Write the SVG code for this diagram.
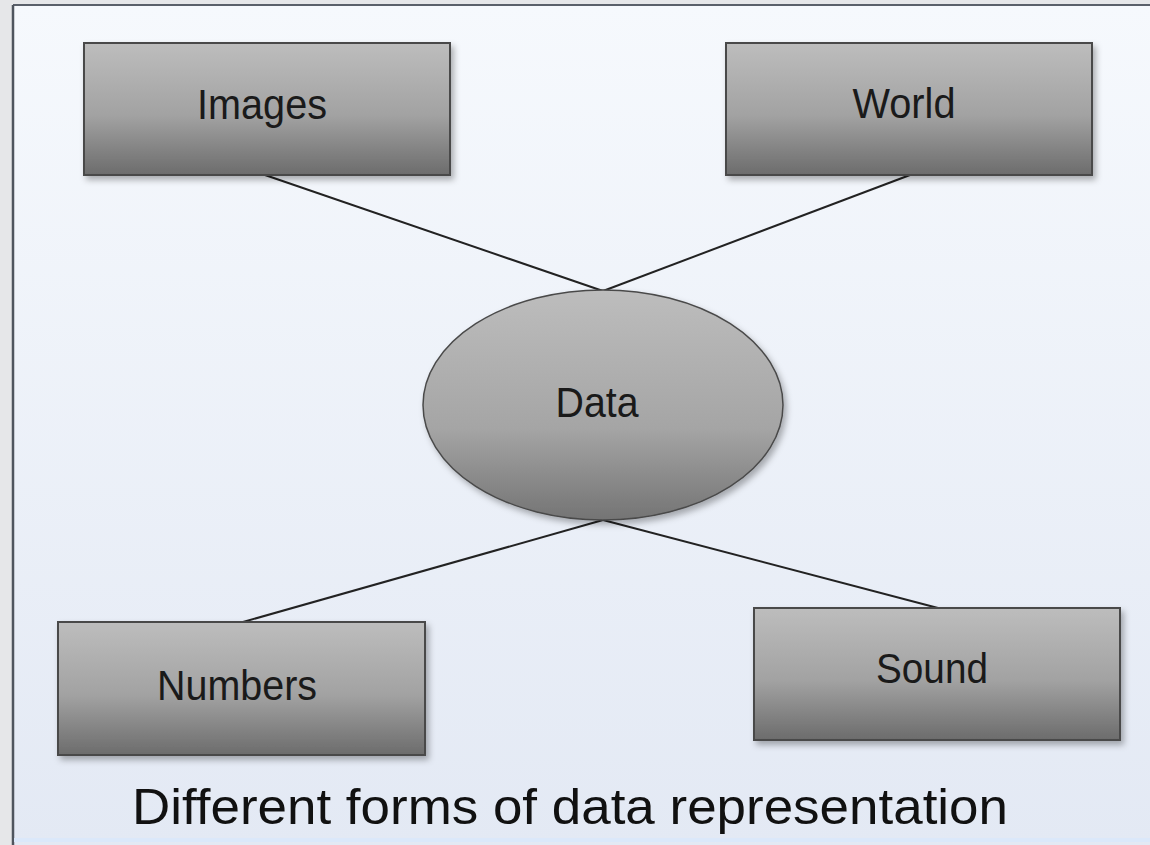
<svg xmlns="http://www.w3.org/2000/svg" width="1150" height="845" viewBox="0 0 1150 845">
  <defs>
    <linearGradient id="bg" x1="0" y1="0" x2="0" y2="1">
      <stop offset="0" stop-color="#f6f9fd"/>
      <stop offset="1" stop-color="#e3e9f4"/>
    </linearGradient>
    <linearGradient id="boxFill" x1="0" y1="0" x2="0" y2="1">
      <stop offset="0" stop-color="#bdbdbd"/>
      <stop offset="0.55" stop-color="#a2a2a2"/>
      <stop offset="1" stop-color="#6c6c6c"/>
    </linearGradient>
    <linearGradient id="ellFill" x1="0" y1="0" x2="0" y2="1">
      <stop offset="0" stop-color="#bdbdbd"/>
      <stop offset="0.6" stop-color="#a5a5a5"/>
      <stop offset="1" stop-color="#747474"/>
    </linearGradient>
    <filter id="shadow" x="-10%" y="-10%" width="125%" height="130%">
      <feDropShadow dx="3" dy="4" stdDeviation="3" flood-color="#000" flood-opacity="0.3"/>
    </filter>
  </defs>
  <style>
    .box { fill: url(#boxFill); stroke: #4a4a4a; stroke-width: 2; filter: url(#shadow); }
    .ell { fill: url(#ellFill); stroke: #4a4a4a; stroke-width: 1.5; filter: url(#shadow); }
    .label { font-family: "Liberation Sans", Arial, sans-serif; font-size: 42px; fill: #1a1a1a; text-anchor: middle; }
    .title { font-family: "Liberation Sans", Arial, sans-serif; font-size: 50px; fill: #111; }
    .conn line { stroke: #222; stroke-width: 2; }
  </style>

  <!-- window chrome around the canvas -->
  <rect x="0" y="0" width="1150" height="845" fill="#e6e7e9"/>
  <rect x="13" y="5" width="1137" height="840" fill="url(#bg)"/>
  <line x1="13" y1="5" x2="1150" y2="5" stroke="#5a606a" stroke-width="2"/>
  <line x1="13" y1="5" x2="13" y2="845" stroke="#4f555e" stroke-width="2.5"/>
  <line x1="14" y1="840" x2="1150" y2="840" stroke="#dbe8fa" stroke-width="4"/>

  <!-- connectors -->
  <g id="connectors" class="conn">
    <line x1="265" y1="175" x2="603" y2="291"/>
    <line x1="910" y1="175" x2="603" y2="291"/>
    <line x1="243" y1="622" x2="603" y2="520"/>
    <line x1="938" y1="608" x2="603" y2="520"/>
  </g>

  <g id="node-images">
    <rect class="box" x="84" y="43" width="366" height="132"/>
    <text class="label" x="262" y="119" textLength="130" lengthAdjust="spacingAndGlyphs">Images</text>
  </g>

  <g id="node-world">
    <rect class="box" x="726" y="43" width="366" height="132"/>
    <text class="label" x="904" y="118" textLength="103" lengthAdjust="spacingAndGlyphs">World</text>
  </g>

  <g id="node-data">
    <ellipse class="ell" cx="603" cy="405" rx="180" ry="115"/>
    <text class="label" x="597" y="417" textLength="83" lengthAdjust="spacingAndGlyphs">Data</text>
  </g>

  <g id="node-numbers">
    <rect class="box" x="58" y="622" width="367" height="133"/>
    <text class="label" x="237" y="700" textLength="160" lengthAdjust="spacingAndGlyphs">Numbers</text>
  </g>

  <g id="node-sound">
    <rect class="box" x="754" y="608" width="366" height="132"/>
    <text class="label" x="932" y="683" textLength="112" lengthAdjust="spacingAndGlyphs">Sound</text>
  </g>

  <text id="caption" class="title" x="132" y="824" textLength="876" lengthAdjust="spacingAndGlyphs">Different forms of data representation</text>
</svg>
